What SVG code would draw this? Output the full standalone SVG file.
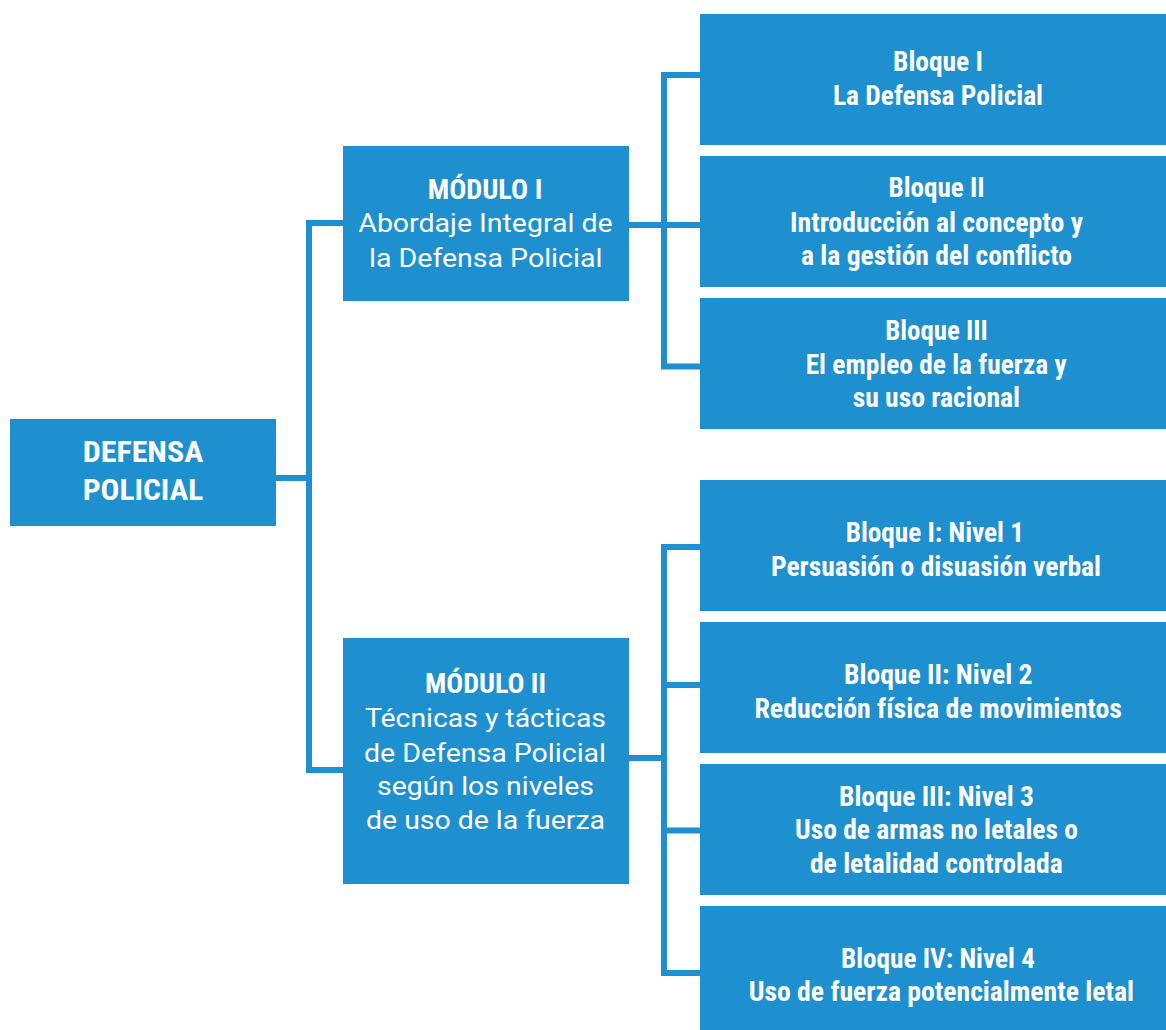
<svg xmlns="http://www.w3.org/2000/svg" width="1166" height="1030" viewBox="0 0 1166 1030">
<style>
.box{fill:#1e90d0}
.c{fill:none;stroke:#1e90d0;stroke-width:6;stroke-linejoin:miter}
text{fill:#fff;text-anchor:middle}
.b{font-family:"Roboto Condensed",Roboto,"Liberation Sans",sans-serif;font-weight:bold;font-size:27px}
.r{font-family:Roboto,"Liberation Sans",sans-serif;font-weight:normal;font-size:26px}
.h{font-family:"Roboto Condensed",Roboto,"Liberation Sans",sans-serif;font-weight:bold;font-size:30px}
</style>
<rect width="1166" height="1030" fill="#fff"/>
<g id="connectors">
<path class="c" d="M276 478 H309"/>
<path class="c" d="M343 223 H309 V770 H343"/>
<path class="c" d="M700 75 H664 V366.5 H700"/>
<path class="c" d="M629 225 H700"/>
<path class="c" d="M700 547 H664 V973 H700"/>
<path class="c" d="M629 758 H664"/>
<path class="c" d="M664 685 H700"/>
<path class="c" d="M664 830.5 H700"/>
</g>
<g id="root">
<rect class="box" x="10" y="419" width="266" height="107"/>
<text class="h" x="143" y="461.7" textLength="120.6" lengthAdjust="spacingAndGlyphs">DEFENSA</text>
<text class="h" x="143" y="500" textLength="120.6" lengthAdjust="spacingAndGlyphs">POLICIAL</text>
</g>
<g id="modulo1">
<rect class="box" x="343" y="146" width="286" height="155"/>
<text class="b" x="485" y="199" textLength="114.6" lengthAdjust="spacingAndGlyphs">MÓDULO I</text>
<text class="r" x="485.5" y="231.7" textLength="254.4" lengthAdjust="spacingAndGlyphs">Abordaje Integral de</text>
<text class="r" x="485.7" y="266.7" textLength="233.3" lengthAdjust="spacingAndGlyphs">la Defensa Policial</text>
</g>
<g id="modulo2">
<rect class="box" x="343" y="638" width="286" height="246"/>
<text class="b" x="485.5" y="693.3" textLength="121" lengthAdjust="spacingAndGlyphs">MÓDULO II</text>
<text class="r" x="485.5" y="727.3" textLength="241" lengthAdjust="spacingAndGlyphs">Técnicas y tácticas</text>
<text class="r" x="485" y="761.7" textLength="242" lengthAdjust="spacingAndGlyphs">de Defensa Policial</text>
<text class="r" x="485.5" y="795" textLength="217" lengthAdjust="spacingAndGlyphs">según los niveles</text>
<text class="r" x="485.5" y="829.3" textLength="239" lengthAdjust="spacingAndGlyphs">de uso de la fuerza</text>
</g>
<g id="bloque1">
<rect class="box" x="700" y="14" width="466" height="131"/>
<text class="b" x="938" y="70.7" textLength="90" lengthAdjust="spacingAndGlyphs">Bloque I</text>
<text class="b" x="938" y="105" textLength="210" lengthAdjust="spacingAndGlyphs">La Defensa Policial</text>
</g>
<g id="bloque2">
<rect class="box" x="700" y="156" width="466" height="131"/>
<text class="b" x="936.5" y="196.7" textLength="96" lengthAdjust="spacingAndGlyphs">Bloque II</text>
<text class="b" x="936.5" y="231.7" textLength="293" lengthAdjust="spacingAndGlyphs">Introducción al concepto y</text>
<text class="b" x="936.5" y="265" textLength="271" lengthAdjust="spacingAndGlyphs">a la gestión del conflicto</text>
</g>
<g id="bloque3">
<rect class="box" x="700" y="298" width="466" height="131"/>
<text class="b" x="936.5" y="340" textLength="102.7" lengthAdjust="spacingAndGlyphs">Bloque III</text>
<text class="b" x="936.2" y="374" textLength="261" lengthAdjust="spacingAndGlyphs">El empleo de la fuerza y</text>
<text class="b" x="936.3" y="406.7" textLength="167.3" lengthAdjust="spacingAndGlyphs">su uso racional</text>
</g>
<g id="nivel1">
<rect class="box" x="700" y="480" width="466" height="131"/>
<text class="b" x="934.8" y="541.7" textLength="178.3" lengthAdjust="spacingAndGlyphs">Bloque I: Nivel 1</text>
<text class="b" x="936" y="576" textLength="330" lengthAdjust="spacingAndGlyphs">Persuasión o disuasión verbal</text>
</g>
<g id="nivel2">
<rect class="box" x="700" y="622" width="466" height="131"/>
<text class="b" x="938.2" y="684" textLength="188.5" lengthAdjust="spacingAndGlyphs">Bloque II: Nivel 2</text>
<text class="b" x="938.2" y="718" textLength="367.5" lengthAdjust="spacingAndGlyphs">Reducción física de movimientos</text>
</g>
<g id="nivel3">
<rect class="box" x="700" y="764" width="466" height="131"/>
<text class="b" x="936.5" y="805.7" textLength="195" lengthAdjust="spacingAndGlyphs">Bloque III: Nivel 3</text>
<text class="b" x="936.5" y="839" textLength="283" lengthAdjust="spacingAndGlyphs">Uso de armas no letales o</text>
<text class="b" x="936.3" y="873.3" textLength="252.7" lengthAdjust="spacingAndGlyphs">de letalidad controlada</text>
</g>
<g id="nivel4">
<rect class="box" x="700" y="906" width="466" height="131"/>
<text class="b" x="937.9" y="968" textLength="194" lengthAdjust="spacingAndGlyphs">Bloque IV: Nivel 4</text>
<text class="b" x="941.3" y="1000.7" textLength="385.3" lengthAdjust="spacingAndGlyphs">Uso de fuerza potencialmente letal</text>
</g>
</svg>
